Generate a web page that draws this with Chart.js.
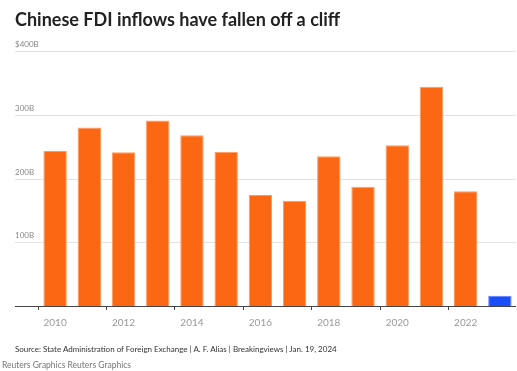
<!DOCTYPE html>
<html>
<head>
<meta charset="utf-8">
<script src="https://cdn.jsdelivr.net/npm/chart.js@4"></script>
<style>
  body { margin: 0; background: #fff; font-family: Lato, sans-serif; }
  .wrap { position: relative; width: 517px; height: 371px; }
  canvas { position: absolute; left: 0; top: 0; }
  .title { position: absolute; left: 15px; top: 8px; font-size: 18px; font-weight: 700; color: #222; white-space: nowrap; }
  .source { position: absolute; left: 15px; top: 344px; font-size: 8px; color: #333; white-space: nowrap; }
  .credit { position: absolute; left: 2px; top: 360px; font-size: 8.5px; color: #777; white-space: nowrap; }
</style>
</head>
<body>
<div class="wrap">
  <canvas id="chart" width="517" height="371"></canvas>
  <div class="title">Chinese FDI inflows have fallen off a cliff</div>
  <div class="source">Source: State Administration of Foreign Exchange | A. F. Alias | Breakingviews | Jan. 19, 2024</div>
  <div class="credit">Reuters Graphics Reuters Graphics</div>
</div>
<script>
// FDI inflows, billions of US dollars
const years = ['2010', '2011', '2012', '2013', '2014', '2015', '2016', '2017', '2018', '2019', '2020', '2021', '2022', '2023'];
const inflows = [243, 280, 241, 291, 268, 242, 174, 165, 235, 187, 252, 344, 180, 16];
const yTicks = [100, 200, 300, 400];
const yTickLabels = ['100B', '200B', '300B', '$400B'];

const orange = '#fc6713';
const blue = '#1c4dfb';

// draws the horizontal gridlines and their labels from the y scale
const gridPlugin = {
  id: 'reutersGrid',
  beforeDatasetsDraw(chart) {
    const ctx = chart.ctx;
    const y = chart.scales.y;
    const left = 15, right = chart.width - 1;
    ctx.save();
    ctx.font = '8px Lato';
    ctx.fillStyle = '#888';
    ctx.textBaseline = 'bottom';
    yTicks.forEach((t, i) => {
      const py = Math.round(y.getPixelForValue(t)) + 0.5;
      ctx.strokeStyle = '#e2e2e2';
      ctx.lineWidth = 1;
      ctx.beginPath();
      ctx.moveTo(left, py);
      ctx.lineTo(right, py);
      ctx.stroke();
      ctx.fillText(yTickLabels[i], left, py - 3);
    });
    ctx.restore();
  },
  afterDatasetsDraw(chart) {
    const ctx = chart.ctx;
    const py = Math.round(chart.scales.y.getPixelForValue(0)) + 0.5;
    ctx.save();
    ctx.strokeStyle = '#444';
    ctx.lineWidth = 1;
    ctx.beginPath();
    ctx.moveTo(15, py);
    ctx.lineTo(chart.width - 1, py);
    ctx.stroke();
    ctx.restore();
  }
};

new Chart(document.getElementById('chart'), {
  type: 'bar',
  data: {
    labels: years,
    datasets: [{
      data: inflows,
      backgroundColor: years.map((y, i) => i === years.length - 1 ? blue : orange),
      borderColor: years.map((y, i) => i === years.length - 1 ? '#5d80ff' : '#ff9a5c'),
      borderWidth: 1,
      categoryPercentage: 1,
      barPercentage: 0.684
    }]
  },
  options: {
    responsive: false,
    animation: false,
    layout: { padding: { left: 38, right: 0, top: 51, bottom: 35 } },
    plugins: {
      legend: { display: false },
      tooltip: { enabled: false }
    },
    scales: {
      x: {
        border: { display: false },
        grid: {
          drawOnChartArea: false,
          drawTicks: true,
          tickLength: 4,
          color: ctx => (ctx.index % 2 === 0 ? '#444' : 'rgba(0,0,0,0)')
        },
        ticks: {
          autoSkip: false,
          maxRotation: 0,
          padding: 7,
          color: '#999',
          font: { family: 'Lato', size: 10 },
          callback: function (val, i) { return i % 2 === 0 ? this.getLabelForValue(val) : ''; }
        }
      },
      y: {
        display: false,
        min: 0,
        max: 400
      }
    }
  },
  plugins: [gridPlugin]
});
</script>
</body>
</html>
